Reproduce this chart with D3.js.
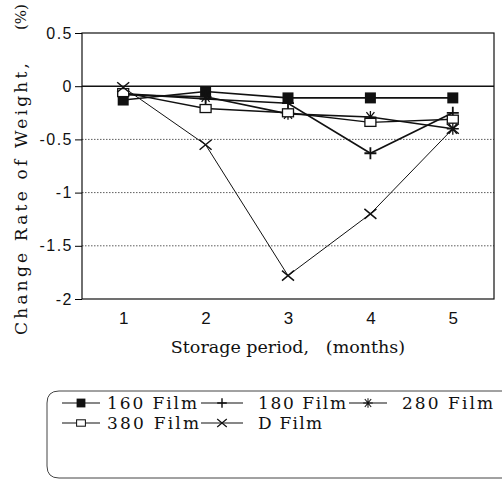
<!DOCTYPE html>
<html>
<head>
<meta charset="utf-8">
<script src="https://cdn.jsdelivr.net/npm/d3@7"></script>
<style>
  body { margin: 0; background: #fff; }
  svg { display: block; }
  .tick text { font-family: 'Liberation Sans', Arial, sans-serif; fill: #111; }
  .serif { font-family: 'DejaVu Serif', 'Liberation Serif', serif; fill: #111; }
</style>
</head>
<body>
<script>
const months = [1, 2, 3, 4, 5]
const seriesNames = ['160 Film', '180 Film', '280 Film', '380 Film', 'D Film']
const film160 = [-0.13, -0.05, -0.11, -0.11, -0.11]
const film180 = [-0.07, -0.12, -0.16, -0.63, -0.25]
const film280 = [-0.08, -0.10, -0.26, -0.29, -0.40]
const film380 = [-0.06, -0.21, -0.25, -0.34, -0.31]
const filmD = [-0.01, -0.55, -1.78, -1.20, -0.40]
const yTicks = [0.5, 0, -0.5, -1, -1.5, -2]
const xTicks = [1, 2, 3, 4, 5]

const seriesValues = [film160, film180, film280, film380, filmD]
const markers = ['square', 'plus', 'asterisk', 'open', 'cross']
const lineWidths = [1.6, 1.6, 1.6, 1.4, 1]

const outerWidth = 502
const outerHeight = 481
const margin = { left: 82, top: 33, right: 8, bottom: 182 }
const innerWidth = outerWidth - margin.left - margin.right
const innerHeight = outerHeight - margin.top - margin.bottom

const svg = d3.select('body').append('svg')
  .attr('width', outerWidth)
  .attr('height', outerHeight)

const g = svg.append('g')
  .attr('transform', 'translate(' + margin.left + ',' + margin.top + ')')

const xScale = d3.scaleLinear().domain([0.5, 5.5]).range([0, innerWidth])
const yScale = d3.scaleLinear().domain([-2, 0.5]).range([innerHeight, 0])

// dotted grid lines
g.selectAll('.grid')
  .data(yTicks.filter(d => d < 0 && d > -2))
  .enter().append('line')
  .attr('x1', 0).attr('x2', innerWidth)
  .attr('y1', d => yScale(d)).attr('y2', d => yScale(d))
  .attr('stroke', '#333').attr('stroke-width', 0.8)
  .attr('stroke-dasharray', '1.5,1.5')

// frame and zero line
g.append('rect')
  .attr('width', innerWidth).attr('height', innerHeight)
  .attr('fill', 'none').attr('stroke', '#111').attr('stroke-width', 1.2)
g.append('line')
  .attr('x1', 0).attr('x2', innerWidth)
  .attr('y1', yScale(0)).attr('y2', yScale(0))
  .attr('stroke', '#111').attr('stroke-width', 1.6)

const yAxis = g.append('g')
  .call(d3.axisLeft(yScale).tickValues(yTicks).tickSize(7).tickPadding(2)
    .tickFormat(d => String(d)).tickSizeOuter(0))
yAxis.select('.domain').remove()
yAxis.selectAll('text').attr('font-size', 16).attr('letter-spacing', 1.5)

const xAxis = g.append('g')
  .attr('transform', 'translate(0,' + innerHeight + ')')
  .call(d3.axisBottom(xScale).tickValues(xTicks).tickSize(0).tickPadding(13)
    .tickFormat(d => String(d)))
xAxis.select('.domain').remove()
xAxis.selectAll('text').attr('font-size', 17)

// axis titles
svg.append('text').attr('class', 'serif')
  .attr('x', 288).attr('y', 353)
  .attr('text-anchor', 'middle')
  .attr('font-size', 17.5)
  .attr('xml:space', 'preserve')
  .text('Storage period,   (months)')

svg.append('text').attr('class', 'serif')
  .attr('transform', 'translate(27,199) rotate(-90)')
  .attr('text-anchor', 'middle')
  .attr('font-size', 17)
  .attr('textLength', 272).attr('lengthAdjust', 'spacing')
  .text('Change Rate of Weight,')

svg.append('text').attr('class', 'serif')
  .attr('transform', 'translate(26,17) rotate(-90)')
  .attr('text-anchor', 'middle')
  .attr('font-size', 15)
  .text('(%)')

function drawMarker (sel, type) {
  if (type === 'square') {
    sel.append('rect').attr('x', -5.5).attr('y', -5.5).attr('width', 11).attr('height', 11)
      .attr('fill', '#111')
  } else if (type === 'open') {
    sel.append('rect').attr('x', -5.5).attr('y', -4).attr('width', 11).attr('height', 8)
      .attr('fill', '#fff').attr('stroke', '#111').attr('stroke-width', 1.3)
  } else if (type === 'plus') {
    sel.append('path').attr('d', 'M-6,0H6M0,-6V6')
      .attr('stroke', '#111').attr('stroke-width', 1.8)
  } else if (type === 'asterisk') {
    sel.append('path').attr('d', 'M-6,0H6M-4,-5L4,5M4,-5L-4,5M0,-6V6')
      .attr('stroke', '#111').attr('stroke-width', 1.3)
  } else {
    sel.append('path').attr('d', 'M-6,-5L6,5M6,-5L-6,5')
      .attr('stroke', '#111').attr('stroke-width', 1.5)
  }
}

const line = d3.line()
  .x((d, i) => xScale(months[i]))
  .y(d => yScale(d))

seriesValues.forEach((vals, s) => {
  g.append('path')
    .attr('d', line(vals))
    .attr('fill', 'none')
    .attr('stroke', '#111')
    .attr('stroke-width', lineWidths[s])
})

seriesValues.forEach((vals, s) => {
  g.selectAll('.m' + s)
    .data(vals)
    .enter().append('g')
    .attr('transform', (d, i) => 'translate(' + xScale(months[i]) + ',' + yScale(d) + ')')
    .each(function () { drawMarker(d3.select(this), markers[s]) })
})

// legend
svg.append('path')
  .attr('d', 'M520,391H59Q47,391 47,403V466Q47,478 59,478H520')
  .attr('fill', 'none').attr('stroke', '#444').attr('stroke-width', 1)

const legendPos = [
  { x: 62, y: 403, tx: 107, w: 90, sw: 38 },
  { x: 201, y: 403, tx: 258, w: 88, sw: 42 },
  { x: 349, y: 403, tx: 402, w: 91, sw: 38 },
  { x: 62, y: 423, tx: 107, w: 92, sw: 38 },
  { x: 201, y: 423, tx: 258, w: 64, sw: 42 }
]

seriesNames.forEach((name, s) => {
  const p = legendPos[s]
  svg.append('line')
    .attr('x1', p.x).attr('x2', p.x + p.sw)
    .attr('y1', p.y).attr('y2', p.y)
    .attr('stroke', '#111').attr('stroke-width', 1.2)
  const mg = svg.append('g')
    .attr('transform', 'translate(' + (p.x + p.sw / 2) + ',' + p.y + ') scale(0.8)')
  drawMarker(mg, markers[s])
  svg.append('text').attr('class', 'serif')
    .attr('x', p.tx).attr('y', p.y + 6)
    .attr('font-size', 17)
    .attr('textLength', p.w).attr('lengthAdjust', 'spacing')
    .text(name)
})
</script>
</body>
</html>
